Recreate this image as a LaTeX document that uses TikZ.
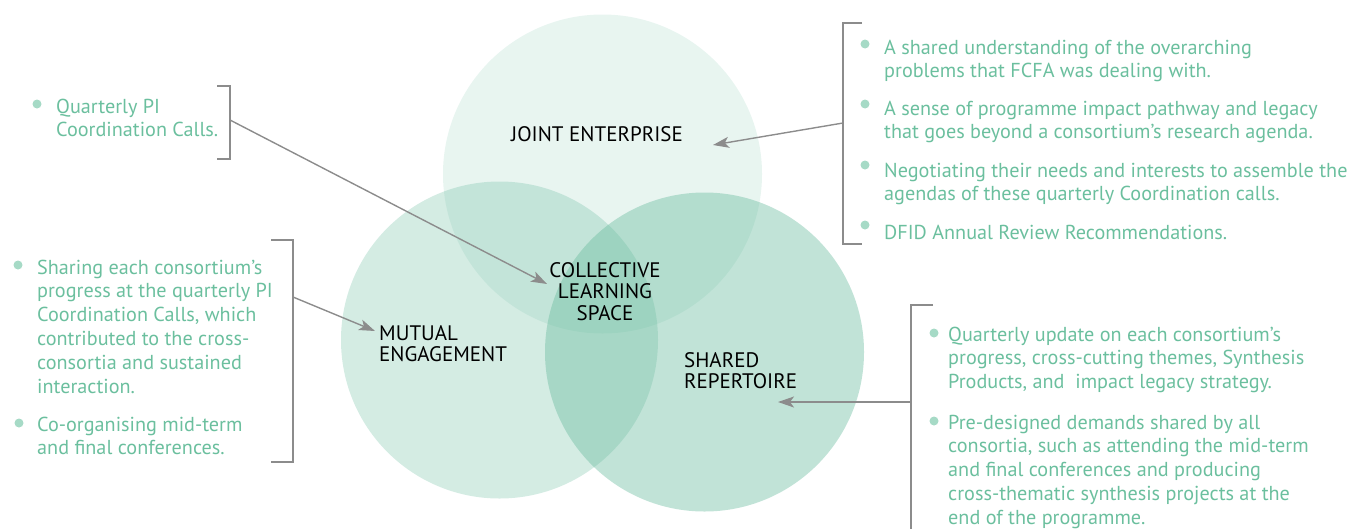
\documentclass[tikz,border=0pt]{standalone}
\usepackage{fontspec}
\setmainfont{PT Sans}
\usetikzlibrary{arrows.meta}
\definecolor{txtgreen}{HTML}{6BBF9E}
\definecolor{bulgreen}{HTML}{A6DAC6}
\definecolor{basegreen}{RGB}{100,185,155}
\definecolor{linegray}{HTML}{8C8C8C}
\newcommand{\mylines}[1]{\begin{tabular}[t]{@{}l@{}}#1\end{tabular}}
\newcommand{\mycentered}[1]{\begin{tabular}[t]{@{}c@{}}#1\end{tabular}}
\begin{document}
\begin{tikzpicture}[x=1pt,y=-1pt,
  item/.style={anchor=base west, inner sep=0pt, text=txtgreen, font=\fontsize{20.2}{23.8}\selectfont},
  bul/.style={circle, fill=bulgreen, minimum size=9pt, inner sep=0pt},
  lbl/.style={inner sep=0pt, font=\fontsize{21}{21.8}\selectfont, text=black},
  brk/.style={draw=linegray, line width=1.4pt},
  arr/.style={draw=linegray, line width=1.4pt, -{Stealth[length=16pt,width=11pt,inset=4pt]}},
  venn/.style={fill=basegreen}
]
\useasboundingbox (0,0) rectangle (1351,528);

% Venn circles
\fill[venn, fill opacity=0.15] (602.5,174) circle[radius=159.5pt];
\fill[venn, fill opacity=0.28] (499.5,340) circle[radius=158.5pt];
\fill[venn, fill opacity=0.40] (704.5,352) circle[radius=159.5pt];

% Circle labels
\node[lbl, anchor=base] (je) at (597,141) {JOINT ENTERPRISE};
\node[lbl, anchor=base] (cls) at (605,277) {\mycentered{COLLECTIVE\\LEARNING\\SPACE}};
\node[lbl, anchor=base west] (me) at (379,340) {\mylines{MUTUAL\\ENGAGEMENT}};
\node[lbl, anchor=base west] (sr) at (684,367) {\mylines{SHARED\\REPERTOIRE}};

% arrow targets
\coordinate (tCLS) at (547,284);
\coordinate (tME) at (375,331);
\coordinate (tJE) at (713,145);
\coordinate (tSR) at (778,402);

% Left top block
\node[bul] (b1) at (37,104) {};
\node[item] (t1) at (56,113) {\mylines{Quarterly PI\\Coordination Calls.}};
\coordinate (k1a) at (217,86);
\coordinate (k1b) at (230,86);
\coordinate (k1c) at (230,159);
\coordinate (k1d) at (217,159);
\coordinate (k1m) at (230,120);
\draw[brk] (k1a) -- (k1b) -- (k1c) -- (k1d);
\draw[arr] (k1m) -- (tCLS);

% Left bottom block
\node[bul] (b2) at (18,265) {};
\node[item] (t2) at (37,274) {\mylines{Sharing each consortium’s\\progress at the quarterly PI\\Coordination Calls, which\\contributed to the cross-\\consortia and sustained\\interaction.}};
\node[bul] (b3) at (19,423) {};
\node[item] (t3) at (37,431) {\mylines{Co-organising mid-term\\and final conferences.}};
\coordinate (k2a) at (271,240);
\coordinate (k2b) at (293,240);
\coordinate (k2c) at (293,462);
\coordinate (k2d) at (271,462);
\coordinate (k2m) at (293,297);
\draw[brk] (k2a) -- (k2b) -- (k2c) -- (k2d);
\draw[arr] (k2m) -- (tME);

% Right top block
\node[bul] (b4) at (865,44) {};
\node[item] (t4) at (884,54) {\mylines{A shared understanding of the overarching\\problems that FCFA was dealing with.}};
\node[bul] (b5) at (865,104) {};
\node[item] (t5) at (884,115) {\mylines{A sense of programme impact pathway and legacy\\that goes beyond a consortium’s research agenda.}};
\node[bul] (b6) at (865,165) {};
\node[item] (t6) at (884,177) {\mylines{Negotiating their needs and interests to assemble the\\agendas of these quarterly Coordination calls.}};
\node[bul] (b7) at (865,225) {};
\node[item] (t7) at (884,239) {\mylines{DFID Annual Review Recommendations.}};
\coordinate (k3a) at (862,23);
\coordinate (k3b) at (843,23);
\coordinate (k3c) at (843,244);
\coordinate (k3d) at (862,244);
\coordinate (k3m) at (843,123);
\draw[brk] (k3a) -- (k3b) -- (k3c) -- (k3d);
\draw[arr] (k3m) -- (tJE);

% Right bottom block
\node[bul] (b8) at (934,333) {};
\node[item] (t8) at (948,341) {\mylines{Quarterly update on each consortium’s\\progress, cross-cutting themes, Synthesis\\Products, and\ \ impact legacy strategy.}};
\node[bul] (b9) at (934,421) {};
\node[item] (t9) at (948,429) {\mylines{Pre-designed demands shared by all\\consortia, such as attending the mid-term\\and final conferences and producing\\cross-thematic synthesis projects at the\\end of the programme.}};
\coordinate (k4a) at (933,305);
\coordinate (k4b) at (911,305);
\coordinate (k4c) at (911,530);
\coordinate (k4m) at (911,402);
\draw[brk] (k4a) -- (k4b) -- (k4c);
\draw[arr] (k4m) -- (tSR);
\end{tikzpicture}
\end{document}
